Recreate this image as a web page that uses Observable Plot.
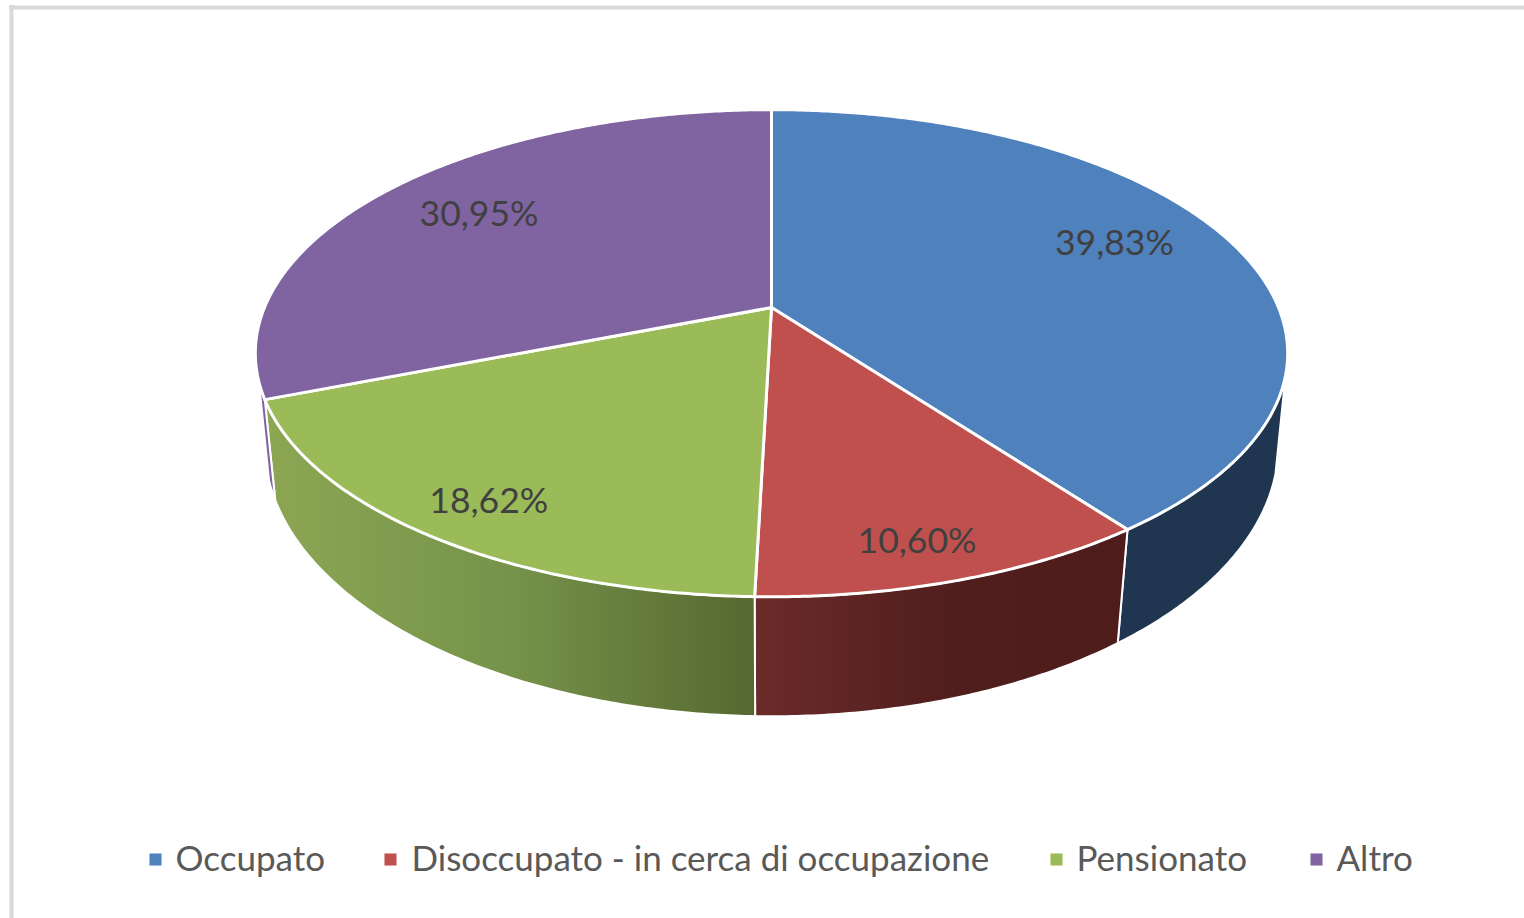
<!DOCTYPE html>
<html lang="it">
<head>
<meta charset="utf-8">
<script src="https://cdn.jsdelivr.net/npm/d3@7"></script>
<script src="https://cdn.jsdelivr.net/npm/@observablehq/plot@0.6"></script>
<style>
html,body{margin:0;padding:0;background:#fff;overflow:hidden}
svg{display:block}
</style>
</head>
<body>
<div id="chart"></div>
<script>
const categories = ["Occupato", "Disoccupato - in cerca di occupazione", "Pensionato", "Altro"];
const shares = [39.83, 10.60, 18.62, 30.95];
const topColors = ["#4f81bd", "#c0504d", "#9bbb59", "#8064a2"];

// Layout (not data): perspective of the two discs, label placement, legend slots
const W = 1524, H = 918;
const topDisc = {cx: 771, cy: 307, a: 507, b: 235, k: 0.1877};
const baseDisc = {cx: 771, cy: 397, a: 499, b: 263, k: 0.175};
const labelRadius = [0.769, 0.873, 0.864, 0.754];
const labelTurn = [-3.7, 1.45, -1.1, 0];
const legendSwatchX = [155, 390, 1056, 1316];
const legendTextX = [175, 411, 1076, 1336];
const legendY = 859;

const project = (d, deg, r = 1) => {
  const t = deg * Math.PI / 180, u = r * Math.sin(t), v = -r * Math.cos(t), w = 1 - d.k * v;
  return [d.cx + d.a * u / w, d.cy + d.b * v / w];
};
const sweep = (from, to) => {
  const n = Math.max(2, Math.ceil(Math.abs(to - from) * 2));
  return d3.range(n + 1).map(i => from + (to - from) * i / n);
};

let acc = 0;
const slices = shares.map((s, i) => {
  const start = acc * 3.6; acc += s;
  const end = acc * 3.6;
  return {i, start, end, mid: (start + end) / 2};
});

const topPoly = s => [[topDisc.cx, topDisc.cy], ...sweep(s.start, s.end).map(a => project(topDisc, a)), [topDisc.cx, topDisc.cy]]
  .map(p => ({x: p[0], y: p[1], z: s.i, fill: topColors[s.i]}));
const wallPoly = (from, to) => {
  const a = sweep(from, to);
  const pts = [...a.map(d => project(topDisc, d)), ...a.slice().reverse().map(d => project(baseDisc, d))];
  pts.push(pts[0]);
  return pts.map(p => ({x: p[0], y: p[1]}));
};

const wallMark = (from, to, fill) => Plot.line(wallPoly(from, to), {x: "x", y: "y", fill, stroke: "#fff", strokeWidth: 2, curve: "linear"});

const labels = slices.map((s, i) => {
  const [x, y] = project(topDisc, s.mid + labelTurn[i], labelRadius[i]);
  return {x, y, text: shares[i].toFixed(2).replace(".", ",") + "%"};
});
const legend = categories.map((c, i) => ({c, color: topColors[i], sx: legendSwatchX[i], tx: legendTextX[i], y: legendY}));

const plot = Plot.plot({
  width: W, height: H, margin: 0,
  x: {domain: [0, W], range: [0, W], axis: null},
  y: {domain: [0, H], range: [0, H], axis: null},
  style: {background: "#fff"},
  marks: [
    Plot.ruleX([11], {y1: 5, y2: H, stroke: "#d9d9d9", strokeWidth: 4}),
    Plot.ruleY([7], {x1: 9, x2: W, stroke: "#d9d9d9", strokeWidth: 4}),
    wallMark(slices[0].end, 106, "#1f3550"),
    wallMark(slices[1].start, slices[1].end, "url(#wallRed)"),
    wallMark(slices[2].start, slices[2].end, "url(#wallGreen)"),
    wallMark(slices[3].start, slices[3].start + 4, "#8064a2"),
    Plot.line(slices.flatMap(topPoly), {x: "x", y: "y", z: "z", fill: "fill", stroke: "#fff", strokeWidth: 3, strokeLinejoin: "round", curve: "linear"}),
    Plot.text(labels, {x: "x", y: "y", text: "text", fill: "#404040", fontSize: 35.5, fontFamily: "Lato", textAnchor: "middle", lineAnchor: "middle"}),
    Plot.dot(legend, {x: "sx", y: "y", symbol: "square", r: 6.8, fill: "color", stroke: "none"}),
    Plot.text(legend, {x: "tx", y: "y", text: "c", fill: "#595959", fontSize: 35, fontFamily: "Lato", textAnchor: "start", lineAnchor: "middle"})
  ]
});

const defs = d3.select(plot).insert("defs", ":first-child");
const gradient = (id, x1, x2, stops) => {
  const g = defs.append("linearGradient").attr("id", id).attr("gradientUnits", "userSpaceOnUse")
    .attr("x1", x1).attr("x2", x2).attr("y1", 0).attr("y2", 0);
  stops.forEach(([o, c]) => g.append("stop").attr("offset", o).attr("stop-color", c));
};
gradient("wallRed", 754, 1125, [[0, "#6b2b2a"], [0.55, "#4f1e1d"], [1, "#4d1c1b"]]);
gradient("wallGreen", 265, 754, [[0, "#8ca653"], [0.5, "#76934a"], [1, "#566830"]]);

document.getElementById("chart").append(plot);
</script>
</body>
</html>
